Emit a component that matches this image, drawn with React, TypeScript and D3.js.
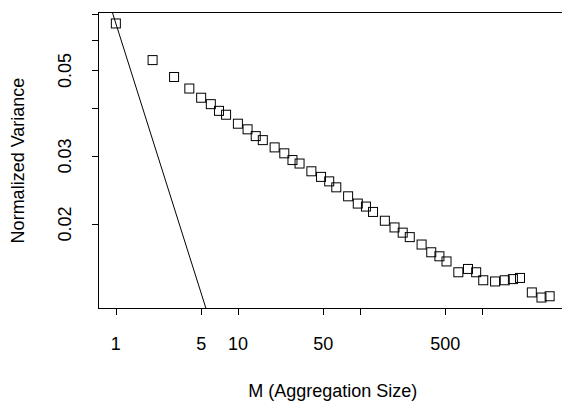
import React, { useEffect, useRef } from 'react';
import * as d3 from 'd3';

// aggregation levels M and the normalized variance at each level
const aggSizes = [
  1, 2, 3, 4, 5, 6, 7, 8, 10, 12, 14, 16, 20, 24, 28, 32, 40, 48, 56, 64, 80, 96, 112, 128,
  160, 192, 224, 256, 320, 384, 448, 512, 640, 768, 896, 1024, 1280, 1536, 1792, 2048,
  2560, 3072, 3584,
];
const normVariance = [
  0.0662, 0.0532, 0.0481, 0.0449, 0.0425, 0.0409, 0.0393, 0.0384, 0.0364, 0.0352, 0.0338,
  0.033, 0.0316, 0.0305, 0.0293, 0.0287, 0.0274, 0.0265, 0.0258, 0.0249, 0.0236, 0.0226,
  0.0222, 0.0215, 0.0204, 0.0196, 0.019, 0.0185, 0.0177, 0.0169, 0.0165, 0.016, 0.015,
  0.0153, 0.015, 0.0143, 0.0142, 0.0143, 0.0144, 0.0145, 0.0133, 0.0129, 0.013,
];
const xTicks = [1, 5, 10, 50, 100, 500, 1000];
const xTickLabels = ['1', '5', '10', '50', '', '500', ''];
const yTicks = [0.02, 0.03, 0.04, 0.05, 0.06, 0.07];
const yTickLabels = ['0.02', '0.03', '', '0.05', '', ''];

function VarianceTimePlot({ width = 562, height = 401 }) {
  const svgRef = useRef<SVGSVGElement>(null);

  useEffect(() => {
    const svg = d3.select(svgRef.current);
    svg.selectAll('*').remove();

    const left = 98.5, right = 567, top = 12.5, bottom = 308.5;
    const font = 'Liberation Sans, Arial, Helvetica, sans-serif';

    // R style log range: data extent padded by 4% in log space
    const padLog = (ext: [number, number]) => {
      const a = Math.log10(ext[0]), b = Math.log10(ext[1]);
      const p = (b - a) * 0.04;
      return [Math.pow(10, a - p), Math.pow(10, b + p)];
    };

    const x = d3.scaleLog()
      .domain(padLog(d3.extent(aggSizes) as [number, number]))
      .range([left, right]);
    const y = d3.scaleLog()
      .domain(padLog(d3.extent(normVariance) as [number, number]))
      .range([bottom, top]);

    svg.append('clipPath').attr('id', 'plotclip')
      .append('rect')
      .attr('x', left).attr('y', top)
      .attr('width', right - left).attr('height', bottom - top);

    // reference line of slope -1 through the first point
    const v1 = normVariance[0] * aggSizes[0];
    const [mLo, mHi] = x.domain();
    const refLine = d3.line<number>()
      .x(m => x(m))
      .y(m => y(v1 / m));
    svg.append('path')
      .attr('d', refLine([mLo, mHi]))
      .attr('clip-path', 'url(#plotclip)')
      .attr('fill', 'none')
      .attr('stroke', '#000')
      .attr('stroke-width', 1);

    // points (open squares)
    const s = 9;
    svg.append('g')
      .selectAll('rect')
      .data(aggSizes)
      .enter()
      .append('rect')
      .attr('x', (m) => x(m) - s / 2)
      .attr('y', (m, i) => y(normVariance[i]) - s / 2)
      .attr('width', s)
      .attr('height', s)
      .attr('fill', 'none')
      .attr('stroke', '#000')
      .attr('stroke-width', 1);

    // box
    svg.append('rect')
      .attr('x', left).attr('y', top)
      .attr('width', right - left).attr('height', bottom - top)
      .attr('fill', 'none')
      .attr('stroke', '#000')
      .attr('stroke-width', 1);

    // x axis
    const gx = svg.append('g');
    gx.append('line')
      .attr('x1', x(xTicks[0])).attr('x2', x(xTicks[xTicks.length - 1]))
      .attr('y1', bottom).attr('y2', bottom)
      .attr('stroke', '#000');
    gx.selectAll('line.tick')
      .data(xTicks)
      .enter()
      .append('line')
      .attr('class', 'tick')
      .attr('x1', d => Math.round(x(d)) + 0.5).attr('x2', d => Math.round(x(d)) + 0.5)
      .attr('y1', bottom).attr('y2', bottom + 6.5)
      .attr('stroke', '#000');
    gx.selectAll('text')
      .data(xTicks)
      .enter()
      .append('text')
      .attr('x', d => x(d))
      .attr('y', 350)
      .attr('text-anchor', 'middle')
      .style('font-family', font)
      .style('font-size', '18px')
      .text((d, i) => xTickLabels[i]);

    // y axis
    const gy = svg.append('g');
    gy.append('line')
      .attr('x1', left).attr('x2', left)
      .attr('y1', y(yTicks[0])).attr('y2', y(yTicks[yTicks.length - 1]))
      .attr('stroke', '#000');
    gy.selectAll('line.tick')
      .data(yTicks)
      .enter()
      .append('line')
      .attr('class', 'tick')
      .attr('x1', left - 6.5).attr('x2', left)
      .attr('y1', d => Math.round(y(d)) + 0.5).attr('y2', d => Math.round(y(d)) + 0.5)
      .attr('stroke', '#000');
    gy.selectAll('text')
      .data(yTicks)
      .enter()
      .append('text')
      .attr('transform', d => `translate(70.5,${y(d)}) rotate(-90)`)
      .attr('text-anchor', 'middle')
      .style('font-family', font)
      .style('font-size', '18px')
      .text((d, i) => yTickLabels[i]);

    // axis titles
    svg.append('text')
      .attr('x', (left + right) / 2)
      .attr('y', 397)
      .attr('text-anchor', 'middle')
      .style('font-family', font)
      .style('font-size', '18px')
      .text('M (Aggregation Size)');

    svg.append('text')
      .attr('transform', `translate(24,${(top + bottom) / 2}) rotate(-90)`)
      .attr('text-anchor', 'middle')
      .style('font-family', font)
      .style('font-size', '18px')
      .text('Normalized Variance');
  }, [width, height]);

  return (
    <svg
      ref={svgRef}
      width={width}
      height={height}
      style={{ position: 'absolute', left: 0, top: 0, background: '#fff' }}
    />
  );
}

export default function App() {
  return <VarianceTimePlot />;
}
